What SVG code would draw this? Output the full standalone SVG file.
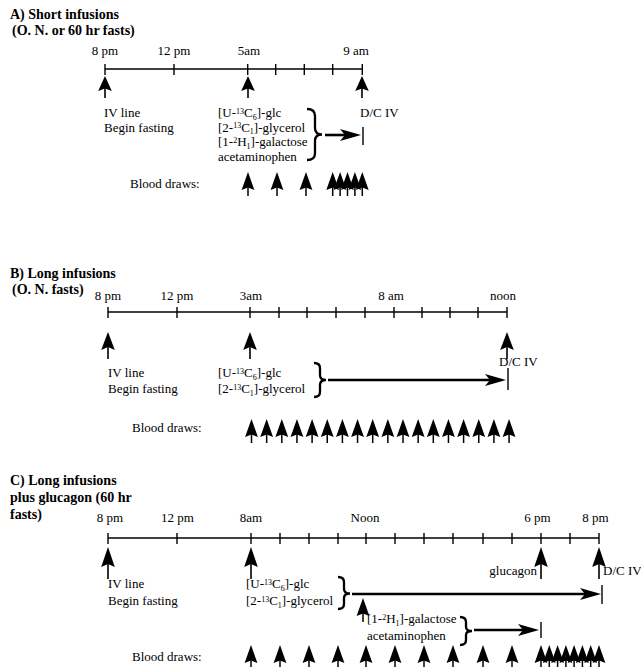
<svg xmlns="http://www.w3.org/2000/svg" xmlns:xlink="http://www.w3.org/1999/xlink" width="641" height="667" viewBox="0 0 641 667">
<style>
text{font-family:"Liberation Serif","Times New Roman",serif;font-size:13px;fill:#000}
.t{font-weight:bold;font-size:14px}
.m{text-anchor:middle}
.e{text-anchor:end}
.s{font-size:8px}
.ax{stroke:#000;stroke-width:1.5;fill:none}
.tk{stroke:#000;stroke-width:1.4}
.br{stroke:#000;stroke-width:2.3;fill:none}
.ln{stroke:#000;stroke-width:2.6}
.bar{stroke:#000;stroke-width:1.4}
</style>
<defs>
<g id="bd"><path d="M0,0 L6.4,18 L0,15.5 L-6.4,18 Z"/><line x1="0" y1="15" x2="0" y2="24" stroke="#000" stroke-width="1.5"/></g>
<g id="upA"><path d="M0,0 L6.8,15 L0,12.5 L-6.8,15 Z"/><line x1="0" y1="12" x2="0" y2="22" stroke="#000" stroke-width="1.6"/></g>
<g id="upB"><path d="M0,0 L6.8,18 L0,15 L-6.8,18 Z"/><line x1="0" y1="14" x2="0" y2="27" stroke="#000" stroke-width="1.6"/></g>
<g id="upC"><path d="M0,0 L6.8,20 L0,17 L-6.8,20 Z"/><line x1="0" y1="16" x2="0" y2="32" stroke="#000" stroke-width="1.6"/></g>
<path id="rh" d="M0,0 L-21,-6 L-16,0 L-21,6 Z"/>
</defs>

<!-- Panel A -->
<g id="panelA">
<g id="A-title"><text class="t" x="10" y="19">A) Short infusions</text><text class="t" x="12" y="35">(O. N. or 60 hr fasts)</text></g>
<g id="A-timeline">
<line class="ax" x1="105" y1="69" x2="362" y2="69"/>
<path class="tk" d="M105,64V75M174,64V75M247.7,64V75M275.7,64V75M304.3,64V75M332.7,64V75M362.3,64V75"/>
<text class="m" x="105" y="55">8 pm</text><text class="m" x="174" y="55">12 pm</text><text class="m" x="249" y="55">5am</text><text class="m" x="356" y="55">9 am</text>
</g>
<g id="A-events">
<use xlink:href="#upA" x="105" y="76"/><use xlink:href="#upA" x="248" y="76"/><use xlink:href="#upA" x="362" y="76"/>
<text x="104" y="117">IV line</text><text x="104" y="132">Begin fasting</text>
<text x="360" y="117">D/C IV</text>
</g>
<g id="A-tracers">
<text x="218" y="117">[U-<tspan class="s" dy="-3.5">13</tspan><tspan dy="3.5">C</tspan><tspan class="s" dy="2.5">6</tspan><tspan dy="-2.5">]-glc</tspan></text>
<text x="218" y="131.7">[2-<tspan class="s" dy="-3.5">13</tspan><tspan dy="3.5">C</tspan><tspan class="s" dy="2.5">1</tspan><tspan dy="-2.5">]-glycerol</tspan></text>
<text x="218" y="146.4">[1-<tspan class="s" dy="-3.5">2</tspan><tspan dy="3.5">H</tspan><tspan class="s" dy="2.5">1</tspan><tspan dy="-2.5">]-galactose</tspan></text>
<text x="218" y="161">acetaminophen</text>
<path class="br" d="M307,109 Q315,109 315,116 L315,128 Q315,134.5 322,134.5 Q315,134.5 315,141 L315,153 Q315,160 307,160"/>
</g>
<g id="A-blood">
<text x="130" y="188">Blood draws:</text>
<use xlink:href="#bd" x="248" y="172"/><use xlink:href="#bd" x="277" y="172"/><use xlink:href="#bd" x="306" y="172"/>
<use xlink:href="#bd" x="332.7" y="172"/><use xlink:href="#bd" x="340.1" y="172"/><use xlink:href="#bd" x="347.5" y="172"/><use xlink:href="#bd" x="354.9" y="172"/><use xlink:href="#bd" x="362.3" y="172"/>
</g>
</g>

<!-- Panel B -->
<g id="panelB">
<g id="B-title"><text class="t" x="10" y="278">B) Long infusions</text><text class="t" x="12" y="294">(O. N. fasts)</text></g>
<g id="B-timeline">
<line class="ax" x1="108" y1="312" x2="507" y2="312"/>
<path class="tk" d="M108,307V318M177,307V318M250,307V318M279,307V318M307,307V318M336,307V318M365,307V318M394,307V318M422,307V318M450,307V318M478,307V318M507,307V318"/>
<text class="m" x="108" y="300">8 pm</text><text class="m" x="177" y="300">12 pm</text><text class="m" x="251" y="300">3am</text><text class="m" x="391" y="300">8 am</text><text class="m" x="503" y="300">noon</text>
</g>
<g id="B-events">
<use xlink:href="#upB" x="108" y="332"/><use xlink:href="#upB" x="250" y="332"/><use xlink:href="#upB" x="507" y="332"/>
<text x="108" y="377">IV line</text><text x="108" y="393">Begin fasting</text>
<text x="499" y="366">D/C IV</text>
</g>
<g id="B-tracers">
<text x="218" y="377">[U-<tspan class="s" dy="-3.5">13</tspan><tspan dy="3.5">C</tspan><tspan class="s" dy="2.5">6</tspan><tspan dy="-2.5">]-glc</tspan></text>
<text x="218" y="393">[2-<tspan class="s" dy="-3.5">13</tspan><tspan dy="3.5">C</tspan><tspan class="s" dy="2.5">1</tspan><tspan dy="-2.5">]-glycerol</tspan></text>
<path class="br" d="M314,363 Q320,363 320,368 L320,375 Q320,380 326,380 Q320,380 320,385 L320,392 Q320,397 314,397"/>
</g>
<g id="B-blood">
<text x="132" y="432">Blood draws:</text>
<use xlink:href="#bd" x="251.5" y="419"/><use xlink:href="#bd" x="266.65" y="419"/><use xlink:href="#bd" x="281.8" y="419"/><use xlink:href="#bd" x="296.95" y="419"/><use xlink:href="#bd" x="312.1" y="419"/><use xlink:href="#bd" x="327.25" y="419"/><use xlink:href="#bd" x="342.4" y="419"/><use xlink:href="#bd" x="357.55" y="419"/><use xlink:href="#bd" x="372.7" y="419"/><use xlink:href="#bd" x="387.85" y="419"/><use xlink:href="#bd" x="403" y="419"/><use xlink:href="#bd" x="418.15" y="419"/><use xlink:href="#bd" x="433.3" y="419"/><use xlink:href="#bd" x="448.45" y="419"/><use xlink:href="#bd" x="463.6" y="419"/><use xlink:href="#bd" x="478.75" y="419"/><use xlink:href="#bd" x="493.9" y="419"/><use xlink:href="#bd" x="509.05" y="419"/>
</g>
</g>

<!-- Panel C -->
<g id="panelC">
<g id="C-title"><text class="t" x="10" y="485">C) Long infusions</text><text class="t" x="10" y="502">plus glucagon (60 hr</text><text class="t" x="10" y="519">fasts)</text></g>
<g id="C-timeline">
<line class="ax" x1="108" y1="538" x2="599" y2="538"/>
<path class="tk" d="M108,533V544M177,533V544M251,533V544M280,533V544M309,533V544M338,533V544M366,533V544M395,533V544M424,533V544M453,533V544M483,533V544M512,533V544M541,533V544M570,533V544M599,533V544"/>
<text class="m" x="110" y="522">8 pm</text><text class="m" x="177.5" y="522">12 pm</text><text class="m" x="251" y="522">8am</text><text class="m" x="365" y="522">Noon</text><text class="m" x="537.5" y="522">6 pm</text><text class="m" x="595.5" y="522">8 pm</text>
</g>
<g id="C-events">
<use xlink:href="#upC" x="108" y="547"/><use xlink:href="#upC" x="251" y="547"/><use xlink:href="#upC" x="541" y="547"/><use xlink:href="#upC" x="599" y="547"/>
<text class="e" x="537" y="575">glucagon</text>
<text x="603" y="575">D/C IV</text>
<text x="108" y="588">IV line</text><text x="108" y="605">Begin fasting</text>
</g>
<g id="C-tracers1">
<text x="246" y="588">[U-<tspan class="s" dy="-3.5">13</tspan><tspan dy="3.5">C</tspan><tspan class="s" dy="2.5">6</tspan><tspan dy="-2.5">]-glc</tspan></text>
<text x="246" y="605">[2-<tspan class="s" dy="-3.5">13</tspan><tspan dy="3.5">C</tspan><tspan class="s" dy="2.5">1</tspan><tspan dy="-2.5">]-glycerol</tspan></text>
<path class="br" d="M338,577 Q344,577 344,582 L344,589 Q344,593.5 350,593.5 Q344,593.5 344,598 L344,604 Q344,609 338,609"/>
</g>
<g id="C-tracers2">
<use xlink:href="#bd" x="363" y="598"/>
<text x="367" y="623">[1-<tspan class="s" dy="-3.5">2</tspan><tspan dy="3.5">H</tspan><tspan class="s" dy="2.5">1</tspan><tspan dy="-2.5">]-galactose</tspan></text>
<text x="367" y="640">acetaminophen</text>
<path class="br" d="M460,617 Q466,617 466,622 L466,627 Q466,631 472,631 Q466,631 466,635 L466,640 Q466,645 460,645"/>
</g>
<g id="C-blood">
<text x="132" y="661">Blood draws:</text>
<use xlink:href="#bd" x="251" y="645"/><use xlink:href="#bd" x="280" y="645"/><use xlink:href="#bd" x="309" y="645"/><use xlink:href="#bd" x="338" y="645"/><use xlink:href="#bd" x="366" y="645"/><use xlink:href="#bd" x="395" y="645"/><use xlink:href="#bd" x="424" y="645"/><use xlink:href="#bd" x="453" y="645"/><use xlink:href="#bd" x="483" y="645"/><use xlink:href="#bd" x="512" y="645"/>
<use xlink:href="#bd" x="541" y="645"/><use xlink:href="#bd" x="549.3" y="645"/><use xlink:href="#bd" x="557.6" y="645"/><use xlink:href="#bd" x="565.9" y="645"/><use xlink:href="#bd" x="574.1" y="645"/><use xlink:href="#bd" x="582.4" y="645"/><use xlink:href="#bd" x="590.7" y="645"/><use xlink:href="#bd" x="599" y="645"/>
</g>
</g>

<!-- Connectors -->
<g id="connectors">
<line class="ln" x1="325" y1="135" x2="346" y2="135"/><use xlink:href="#rh" x="361" y="135"/><line class="bar" x1="363" y1="127" x2="363" y2="145"/>
<line class="ln" x1="328" y1="380" x2="490" y2="380"/><use xlink:href="#rh" x="506" y="380"/><line class="bar" x1="508" y1="368" x2="508" y2="390"/>
<line class="ln" x1="352" y1="594" x2="585" y2="594"/><use xlink:href="#rh" x="601" y="594"/><line class="bar" x1="602" y1="585" x2="602" y2="604"/>
<line class="ln" x1="474" y1="630" x2="524" y2="630"/><use xlink:href="#rh" x="539" y="630"/><line class="bar" x1="541" y1="622" x2="541" y2="638"/>
</g>
</svg>
